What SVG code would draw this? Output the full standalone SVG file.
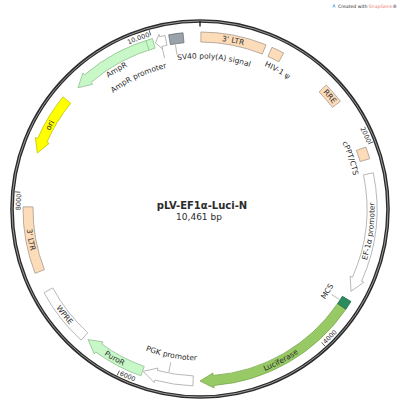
<svg xmlns="http://www.w3.org/2000/svg" width="400" height="417" viewBox="0 0 400 417">
<style>
text { font-family: "DejaVu Sans", Verdana, sans-serif; fill: #2b2b2b; }
.fl { font-size: 7.5px; }
.lb { font-size: 7.5px; }
.tk { font-size: 6.5px; }
.m { text-anchor: middle; }
.e { text-anchor: end; }
.s { text-anchor: start; }
.peach { fill: #fcdcb9; stroke: #a89a8c; stroke-width: 0.8; }
.white { fill: #ffffff; stroke: #a6a6a6; stroke-width: 0.8; }
.lgreen { fill: #c8f7c8; stroke: #8fbf8f; stroke-width: 0.8; }
.tick { stroke: #333333; stroke-width: 0.8; }
.lead { stroke: #999999; stroke-width: 0.7; fill: none; }
</style>
<defs>
<path id="cw169" d="M200,378.5 A169.5,169.5 0 0 1 200,39.5 A169.5,169.5 0 0 1 200,378.5"/>
<path id="cw179" d="M200,388.5 A179.5,179.5 0 0 1 200,29.5 A179.5,179.5 0 0 1 200,388.5"/>
<path id="cw150" d="M200,359.5 A150.5,150.5 0 0 1 200,58.5 A150.5,150.5 0 0 1 200,359.5"/>
<path id="cw157" d="M200,366 A157,157 0 0 1 200,52 A157,157 0 0 1 200,366"/>
<path id="cw160" d="M200,369 A160,160 0 0 1 200,49 A160,160 0 0 1 200,369"/>
<path id="cw145" d="M200,354 A145,145 0 0 1 200,64 A145,145 0 0 1 200,354"/>
<path id="ccw174" d="M200,34.5 A174.5,174.5 0 0 0 200,383.5 A174.5,174.5 0 0 0 200,34.5"/>
<path id="ccw184" d="M200,24.5 A184.5,184.5 0 0 0 200,393.5 A184.5,184.5 0 0 0 200,24.5"/>
<path id="ccw154" d="M200,55 A154,154 0 0 0 200,363 A154,154 0 0 0 200,55"/>
<path id="ccw151" d="M200,57.5 A151.5,151.5 0 0 0 200,360.5 A151.5,151.5 0 0 0 200,57.5"/>
</defs>

<g id="ring">
<circle cx="200" cy="209" r="188" fill="none" stroke="#2a2a2a" stroke-width="3.6"/>
<circle cx="200" cy="209" r="188" fill="none" stroke="#9a9a9a" stroke-width="1"/>
<line x1="200" y1="21" x2="200" y2="26.5" stroke="#222" stroke-width="1.4"/>
<line class="tick" x1="373.44" y1="141.82" x2="368.31" y2="143.80"/>
<line class="tick" x1="325.31" y1="346.45" x2="321.60" y2="342.39"/>
<line class="tick" x1="117.07" y1="375.49" x2="119.52" y2="370.57"/>
<line class="tick" x1="14.80" y1="191.79" x2="20.27" y2="192.30"/>
<line class="tick" x1="149.17" y1="30.08" x2="150.67" y2="35.37"/>
<text class="tk e"><textPath href="#cw179" startOffset="778.05">2000</textPath></text>
<text class="tk s"><textPath href="#ccw184" startOffset="717.51">4000</textPath></text>
<text class="tk s"><textPath href="#ccw184" startOffset="495.87">6000</textPath></text>
<text class="tk e"><textPath href="#cw179" startOffset="297.09">8000</textPath></text>
<text class="tk e"><textPath href="#cw179" startOffset="512.73">10,000</textPath></text>
</g>

<g id="connectors">
<path class="lead" d="M175.46,44.82 L176.94,54.71"/>
<path class="lead" d="M162.09,47.39 L164.61,58.09"/>
<path class="lead" d="M339.22,299.41 L331.67,294.51"/>
<path class="lead" d="M168.89,372.06 L170.77,362.24"/>
</g>

<g id="ltr3-top">
<path class="peach" d="M200.93,32.00 A177,177 0 0 1 266.02,44.77 L262.29,54.05 A167,167 0 0 0 200.87,42.00 Z"/>
<text class="fl m"><textPath href="#cw169" startOffset="565.34">3' LTR</textPath></text>
</g>

<g id="hiv1-psi">
<path class="peach" d="M271.99,47.30 A177,177 0 0 1 283.64,53.01 L278.92,61.82 A167,167 0 0 0 267.93,56.44 Z"/>
<text class="lb m"><textPath href="#cw157" startOffset="572.97">HIV-1 ψ</textPath></text>
</g>

<g id="rre">
<path class="peach" d="M326.25,84.94 A177,177 0 0 1 340.42,101.25 L332.49,107.34 A167,167 0 0 0 319.11,91.95 Z"/>
<text class="fl m"><textPath href="#cw169" startOffset="677.46">RRE</textPath></text>
</g>

<g id="cppt-cts">
<path class="peach" d="M365.79,147.01 A177,177 0 0 1 369.71,158.73 L360.12,161.57 A167,167 0 0 0 356.42,150.51 Z"/>
<text class="lb m"><textPath href="#cw157" startOffset="688.33">cPPT/CTS</textPath></text>
</g>

<g id="ef1a-promoter">
<path class="white" d="M373.26,172.80 A177,177 0 0 1 361.57,281.27 L363.85,282.30 L351.01,291.33 L350.16,276.17 L352.44,277.19 A167,167 0 0 0 363.47,174.85 Z"/>
<text class="fl m"><textPath href="#ccw174" startOffset="799.17">EF-1α promoter</textPath></text>
</g>

<g id="luciferase">
<path fill="#97c965" stroke="#79a84d" stroke-width="0.8" d="M345.87,309.25 A177,177 0 0 1 213.89,385.46 L214.08,387.95 L200,381 L212.91,372.99 L213.10,375.49 A167,167 0 0 0 337.63,303.59 Z"/>
<text class="fl m"><textPath href="#ccw174" startOffset="633.48">Luciferase</textPath></text>
</g>

<g id="mcs">
<path fill="#2b8c5f" stroke="#1d6b46" stroke-width="0.8" d="M350.92,301.48 A177,177 0 0 1 345.87,309.25 L337.63,303.59 A167,167 0 0 0 342.39,296.26 Z"/>
<text class="lb m"><textPath href="#ccw154" startOffset="637.01">MCS</textPath></text>
</g>

<g id="pgk-promoter">
<path class="white" d="M192.90,385.86 A177,177 0 0 1 154.79,380.13 L154.15,382.54 L143.15,371.33 L157.98,368.04 L157.34,370.46 A167,167 0 0 0 193.30,375.86 Z"/>
<text class="lb m"><textPath href="#ccw151" startOffset="446.34">PGK promoter</textPath></text>
</g>

<g id="puror">
<path class="lgreen" d="M140.92,375.85 A177,177 0 0 1 95.72,352.01 L94.25,354.03 L88.07,339.59 L103.08,341.91 L101.61,343.93 A167,167 0 0 0 144.25,366.42 Z"/>
<text class="fl m"><textPath href="#ccw174" startOffset="457.45">PuroR</textPath></text>
</g>

<g id="wpre">
<path class="white" d="M81.11,340.12 A177,177 0 0 1 44.01,292.64 L52.82,287.92 A167,167 0 0 0 87.82,332.71 Z"/>
<text class="fl m"><textPath href="#ccw174" startOffset="389.84">WPRE</textPath></text>
</g>

<g id="ltr3-left">
<path class="peach" d="M35.08,273.30 A177,177 0 0 1 23.01,206.84 L33.01,206.96 A167,167 0 0 0 44.40,269.66 Z"/>
<text class="fl m"><textPath href="#ccw174" startOffset="305.47">3' LTR</textPath></text>
</g>

<g id="ori">
<path fill="#ffff00" stroke="#c4c400" stroke-width="0.8" d="M63.03,96.89 A177,177 0 0 0 37.68,138.42 L35.39,137.42 L37.37,153.00 L49.14,143.41 L46.85,142.41 A167,167 0 0 1 70.77,103.23 Z"/>
<text class="fl m"><textPath href="#cw169" startOffset="352.48">ori</textPath></text>
</g>

<g id="ampr">
<path class="lgreen" d="M152.40,38.52 A177,177 0 0 0 84.58,74.81 L82.95,72.92 L77.95,87.80 L92.73,84.29 L91.10,82.39 A167,167 0 0 1 155.09,48.15 Z"/>
<path d="M145.89,40.47 L148.95,49.99" stroke="#8fbf8f" stroke-width="0.8"/>
<text class="lb m"><textPath href="#cw160" startOffset="416.08">AmpR</textPath></text>
</g>

<g id="ampr-promoter">
<path class="white" d="M165.01,35.49 A177,177 0 0 0 159.58,36.68 L159.01,34.24 L155.48,42.86 L162.44,48.85 L161.87,46.41 A167,167 0 0 1 166.99,45.29 Z"/>
<text class="lb e"><textPath href="#cw145" startOffset="421.87">AmpR promoter</textPath></text>
</g>

<g id="sv40-polya">
<path fill="#9aa2ab" stroke="#6d737a" stroke-width="0.8" d="M168.66,34.80 A177,177 0 0 1 183.03,32.81 L183.99,42.77 A167,167 0 0 0 170.43,44.64 Z"/>
<text class="lb s"><textPath href="#cw150" startOffset="449.96">SV40 poly(A) signal</textPath></text>
</g>

<g id="title">
<text x="202" y="209" font-size="10" font-weight="bold" text-anchor="middle" fill="#111">pLV-EF1α-Luci-N</text>
<text x="199" y="220" font-size="9" text-anchor="middle" fill="#333">10,461 bp</text>
</g>

<g id="credit">
<path d="M332.3,8 L334,3.6 L335.7,8 L334,6.6 Z" fill="#5aaee8"/>
<text x="338" y="8" font-size="4.6" fill="#a8a8a8">Created with <tspan fill="#ea7b72">SnapGene</tspan>®</text>
</g>
</svg>
